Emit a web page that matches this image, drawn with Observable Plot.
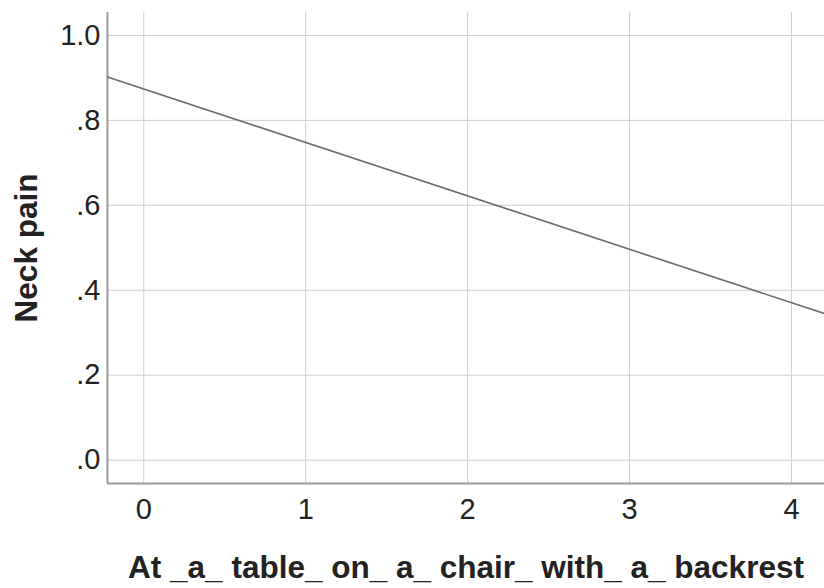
<!DOCTYPE html>
<html>
<head>
<meta charset="utf-8">
<script src="https://cdn.jsdelivr.net/npm/d3@7"></script>
<script src="https://cdn.jsdelivr.net/npm/@observablehq/plot@0.6"></script>
<style>
  html, body { margin: 0; padding: 0; background: #fff; }
  #chart svg { font-family: "Liberation Sans", Arial, sans-serif; }
</style>
</head>
<body>
<div id="chart"></div>
<script>
// Fit line endpoints (x, predicted Neck pain)
const lineX = [-0.224, 4.204];
const lineY = [0.902, 0.345];
const xTicks = [0, 1, 2, 3, 4];
const yTicks = [0, 0.2, 0.4, 0.6, 0.8, 1.0];
const xDomain = [-0.224, 4.204];
const yDomain = [-0.055, 1.054];
const xLabel = "At _a_ table_ on_ a_ chair_ with_ a_ backrest";
const yLabel = "Neck pain";

const data = lineX.map((x, i) => ({x, y: lineY[i]}));
const fmtY = d => d.toFixed(1).replace(/^0/, "");
const fmtX = d => String(d);

const chart = Plot.plot({
  width: 824,
  height: 588,
  marginLeft: 107,
  marginRight: 0,
  marginTop: 12,
  marginBottom: 105,
  x: {domain: xDomain},
  y: {domain: yDomain},
  marks: [
    Plot.gridX(xTicks, {stroke: "#cfcfd4", strokeOpacity: 1, strokeWidth: 1}),
    Plot.gridY(yTicks, {stroke: "#cfcfd4", strokeOpacity: 1, strokeWidth: 1}),
    Plot.axisX(xTicks, {tickSize: 0, tickPadding: 15, fontSize: 29, fill: "#222", tickFormat: fmtX, label: null}),
    Plot.axisY(yTicks, {tickSize: 0, tickPadding: 7, fontSize: 29, fill: "#222", tickFormat: fmtY, label: null}),
    Plot.ruleX([xDomain[0]], {stroke: "#9a9a9a", strokeWidth: 2}),
    Plot.ruleY([yDomain[0]], {stroke: "#9a9a9a", strokeWidth: 2}),
    Plot.line(data, {x: "x", y: "y", stroke: "#6b6b6b", strokeWidth: 1.6}),
    Plot.text([xLabel], {frameAnchor: "bottom", dy: 84, textAnchor: "middle", lineAnchor: "middle", fontSize: 31.5, fontWeight: "bold", fill: "#222", text: d => d}),
    Plot.text([yLabel], {frameAnchor: "left", dx: -81, rotate: -90, textAnchor: "middle", lineAnchor: "middle", fontSize: 31.5, fontWeight: "bold", fill: "#222", text: d => d, style: {letterSpacing: "1.2px"}})
  ]
});
document.getElementById("chart").appendChild(chart);
</script>
</body>
</html>
